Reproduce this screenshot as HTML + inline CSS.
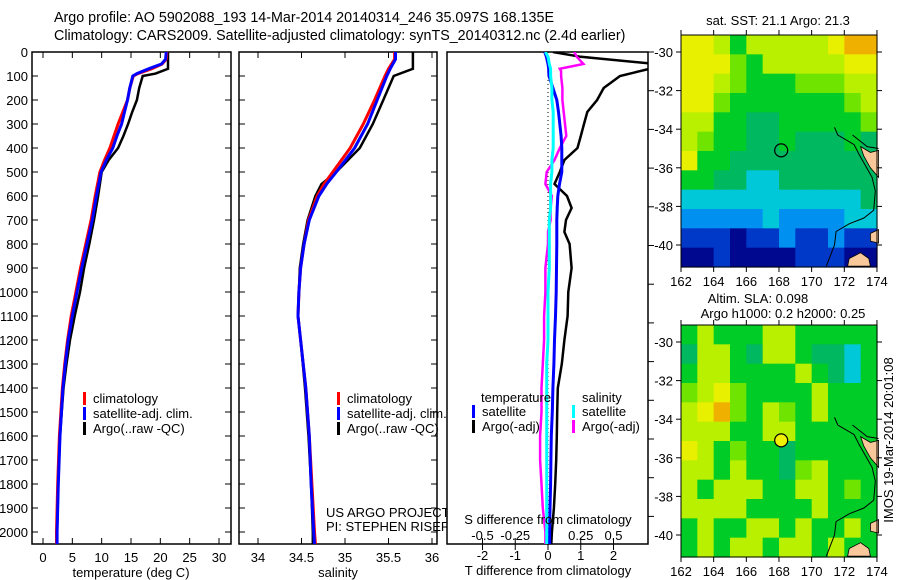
<!DOCTYPE html>
<html><head><meta charset="utf-8">
<style>
html,body{margin:0;padding:0;background:#fff;}
svg{display:block;font-family:"Liberation Sans",sans-serif;}
text{font-size:13px;fill:#000;}
</style></head>
<body>
<svg id="fig" width="900" height="580" viewBox="0 0 900 580" xmlns="http://www.w3.org/2000/svg">
<text x="54" y="22" text-anchor="start" style="font-size:14.3px">Argo profile: AO 5902088_193 14-Mar-2014 20140314_246 35.097S 168.135E</text>
<text x="54" y="40" text-anchor="start" style="font-size:14.3px">Climatology: CARS2009. Satellite-adjusted climatology: synTS_20140312.nc (2.4d earlier)</text>
<g id="g"></g>
</svg>
<script>
// ---- profile data ----
const tDepth=[0,30,50,70,90,100,150,200,250,300,350,400,450,500,600,700,800,900,1000,1100,1200,1300,1400,1600,1800,2000,2050];
const tClim=[21.1,21.0,20.3,18.5,16.2,15.4,14.8,14.4,13.6,12.8,12.1,11.4,10.5,9.7,8.9,8.2,7.3,6.4,5.6,4.8,4.2,3.7,3.3,2.8,2.5,2.3,2.3];
const tSat=[21.0,20.9,20.2,18.0,16.0,15.3,14.8,14.4,13.9,13.4,12.6,11.9,10.8,9.9,9.1,8.4,7.5,6.6,5.8,5.0,4.3,3.8,3.4,2.9,2.6,2.4,2.4];
const tArgo=[21.3,21.3,21.3,21.3,19.2,17.0,16.4,16.0,15.2,14.5,13.7,12.8,11.2,10.0,9.4,8.7,7.9,7.0,6.3,5.4,4.6,4.0,3.5,2.9,2.6,2.4,2.4];
const sDepth=[0,30,70,100,200,300,400,500,550,600,700,800,900,1000,1100,1200,1400,1600,1800,2000,2050];
const sClim=[35.57,35.57,35.50,35.46,35.34,35.21,35.06,34.86,34.76,34.68,34.58,34.53,34.49,34.47,34.46,34.49,34.55,34.59,34.62,34.65,34.66];
const sSat=[35.58,35.58,35.52,35.48,35.37,35.26,35.11,34.90,34.79,34.70,34.59,34.53,34.49,34.47,34.46,34.49,34.55,34.59,34.61,34.64,34.65];
const sArgo=[35.78,35.78,35.78,35.56,35.44,35.32,35.17,34.90,34.73,34.66,34.57,34.52,34.48,34.47,34.46,34.49,34.54,34.58,34.61,34.63,34.63];
const dDepth=[0,20,50,70,80,100,150,200,250,300,350,400,450,500,550,600,650,700,750,800,900,1000,1100,1200,1300,1400,1500,1600,1700,1800,1900,2000,2050];
const dTSat=[-0.1,-0.05,0,0.02,0.02,0.03,0.15,0.27,0.32,0.36,0.4,0.42,0.42,0.42,0.35,0.3,0.28,0.27,0.27,0.27,0.26,0.25,0.23,0.2,0.18,0.15,0.13,0.1,0.09,0.08,0.06,0.05,0.05];
const dTArgo=[0.15,1.0,3.3,3.1,2.8,2.2,1.7,1.5,1.2,1.1,1.0,0.9,0.5,0.36,0.2,0.58,0.72,0.55,0.5,0.66,0.72,0.62,0.6,0.5,0.42,0.3,0.28,0.27,0.25,0.22,0.18,0.12,0.1];
const dSSat=[-0.02,0,0.01,0.02,0.02,0.02,0.03,0.03,0.04,0.04,0.04,0.04,0.03,0.03,0.02,0.02,0.02,0.01,0.01,0.01,0.01,0.0,0.0,0.0,-0.01,-0.01,-0.01,-0.01,-0.01,-0.01,-0.01,-0.01,-0.01];
const dSArgo=[0.2,0.22,0.27,0.09,0.1,0.1,0.11,0.11,0.12,0.13,0.14,0.09,0.05,-0.01,-0.02,0.03,0.02,0.02,0.0,0.0,-0.02,-0.02,-0.03,-0.03,-0.04,-0.05,-0.05,-0.06,-0.06,-0.05,-0.04,-0.02,-0.02];
const depthTicks=[0,100,200,300,400,500,600,700,800,900,1000,1100,1200,1300,1400,1500,1600,1700,1800,1900,2000];
const tTicks=[0,5,10,15,20,25,30];
const sTicks=[34,34.5,35,35.5,36];
const sTickLabels=["34","34.5","35","35.5","36"];
const dTTicks=[-2,-1,0,1,2];
const dSTicks=[-0.5,-0.25,0,0.25,0.5];
const dSTickLabels=["-0.5","-0.25","0","0.25","0.5"];
// ---- map data (color class 0..9) ----
const mapLons=[162,164,166,168,170,172,174];
const mapLats=[-30,-32,-34,-36,-38,-40];
const sstGrid=[
[8,8,7,5,7,7,7,7,7,8,9,9],
[8,8,8,6,5,7,7,7,7,7,8,8],
[8,8,7,6,5,5,5,6,6,6,7,7],
[8,8,6,5,5,5,5,5,5,5,6,7],
[7,7,5,5,4,4,5,5,5,5,5,6],
[7,6,5,5,4,4,5,4,4,4,5,4],
[8,5,5,4,4,4,4,4,4,4,4,4],
[5,5,4,4,3,3,4,4,4,4,4,4],
[3,3,3,3,3,3,3,3,3,3,3,4],
[2,2,2,2,2,3,2,2,2,2,3,3],
[1,1,1,0,1,1,2,1,1,2,1,1],
[0,0,1,0,0,0,0,1,1,1,0,0]];
const slaGrid=[
[5,7,5,5,5,7,7,5,5,5,5,5],
[4,7,7,5,4,7,7,5,4,4,3,5],
[5,7,7,5,5,5,5,7,5,4,3,5],
[6,7,8,6,5,5,5,5,7,5,5,5],
[7,8,9,6,5,7,6,5,7,5,5,5],
[7,7,7,5,5,7,7,5,5,5,5,5],
[8,7,5,6,5,5,4,5,5,5,5,5],
[7,7,5,7,5,5,4,6,7,5,5,5],
[7,5,7,7,7,5,5,7,7,5,6,5],
[7,7,7,7,5,5,5,5,7,5,5,5],
[5,7,5,5,7,7,5,7,5,5,7,5],
[5,7,5,7,7,5,7,7,5,7,5,5]];
const palette=["#000890","#0038c8","#0090f0","#00c8d8","#00b860","#00cc28","#6ee400","#b8f000","#e8f000","#f0b000"];
const argoLon=168.135, argoLat=-35.097;

const NS="http://www.w3.org/2000/svg";
const G=document.getElementById('g');
function mk(tag,attrs,parent){const e=document.createElementNS(NS,tag);for(const k in attrs)e.setAttribute(k,attrs[k]);(parent||G).appendChild(e);return e;}
function txt(x,y,s,anchor,parent){const t=mk('text',{x:x,y:y,'text-anchor':anchor||'middle'},parent);t.textContent=s;return t;}

const Y0=52,Y1=544;
function yD(d){return 52+d*0.24;}
function xT(v){return 43+v*(219-43)/30;}
function xS(v){return 258+(v-34)*87;}
function xDT(v){return 548+v*32.75;}
function xDS(v){return 548+v*131;}

function panel(x0,x1,name){
  const r=mk('rect',{x:x0,y:Y0,width:x1-x0,height:Y1-Y0,fill:'#fff',stroke:'#000','stroke-width':1.5});
  
  
}
function line(xs,ds,fx,color,w,name,clip){
  const pts=xs.map((v,i)=>fx(v).toFixed(1)+','+yD(ds[i]).toFixed(1)).join(' ');
  const p=mk('polyline',{points:pts,fill:'none',stroke:color,'stroke-width':w,'stroke-linejoin':'miter'});
  if(clip)p.setAttribute('clip-path','url(#'+clip+')');
  
  
}
function depthTicksOn(x0,x1,labels){
  depthTicks.forEach(d=>{const y=yD(d);
    mk('line',{x1:x0,y1:y,x2:x0+6,y2:y,stroke:'#000'});
    mk('line',{x1:x1-6,y1:y,x2:x1,y2:y,stroke:'#000'});
    if(labels){const t=txt(x0-4,y+5,String(d),'end');
      
      }
  });
}
function xTicks(vals,labs,fx,x0,x1,yl){
  vals.forEach((v,i)=>{const x=fx(v);
    mk('line',{x1:x,y1:Y1,x2:x,y2:Y1-6,stroke:'#000'});
    mk('line',{x1:x,y1:Y0,x2:x,y2:Y0+6,stroke:'#000'});
    const t=txt(x,yl,labs[i]);
    
    });
}
function legendEntry(x,y,color,label){
  mk('rect',{x:x,y:y-11,width:3,height:13,fill:color});
  const t=txt(x+10,y,label,'start');
  
  
}

// Panel 1: temperature
panel(32,231,'temperature-panel');
depthTicksOn(32,231,true);
xTicks(tTicks,tTicks.map(String),xT,32,231,562);
line(tArgo,tDepth,xT,'#000',2.5,'argo-temperature-line');
line(tClim,tDepth,xT,'#f00',3,'climatology-temperature-line');
line(tSat,tDepth,xT,'#00f',3,'satellite-temperature-line');
let t=txt(131,577,'temperature (deg C)');
legendEntry(83,403,'#f00','climatology');
legendEntry(83,418,'#00f','satellite-adj. clim.');
legendEntry(83,433,'#000','Argo(..raw -QC)');

// Panel 2: salinity
panel(239,437,'salinity-panel');
depthTicksOn(239,437,false);
xTicks(sTicks,sTickLabels,xS,239,437,562);
line(sArgo,sDepth,xS,'#000',2.5,'argo-salinity-line');
line(sClim,sDepth,xS,'#f00',3,'climatology-salinity-line');
line(sSat,sDepth,xS,'#00f',3,'satellite-salinity-line');
t=txt(338,577,'salinity');
legendEntry(337,403,'#f00','climatology');
legendEntry(337,418,'#00f','satellite-adj. clim.');
legendEntry(337,433,'#000','Argo(..raw -QC)');
t=txt(326,517,'US ARGO PROJECT','start');
t=txt(326,531,'PI: STEPHEN RISER','start');

// Panel 3: differences
const defs=mk('defs',{});
const cp=mk('clipPath',{id:'c3'},defs);mk('rect',{x:447,y:Y0,width:201,height:Y1-Y0},cp);
panel(447,648,'difference-panel');
for(let y=Y0;y<Y1;y+=38.7){mk('line',{x1:648,y1:y,x2:654,y2:y,stroke:'#000'});}
mk('line',{x1:548,y1:Y0,x2:548,y2:Y1,stroke:'#000','stroke-dasharray':'1,3'});
dTTicks.forEach(v=>{const x=xDT(v);mk('line',{x1:x,y1:Y1,x2:x,y2:Y1+6,stroke:'#000'});
  const tt=txt(x,560,String(v));});
dSTicks.forEach((v,i)=>{const x=xDS(v);mk('line',{x1:x,y1:Y1,x2:x,y2:Y1-6,stroke:'#000'});
  const tt=txt(x,540,dSTickLabels[i]);});
line(dTArgo,dDepth,xDT,'#000',2.5,'argo-t-diff-line','c3');
line(dSArgo,dDepth,xDS,'#f0f',2.5,'argo-s-diff-line','c3');
line(dTSat,dDepth,xDT,'#00f',3,'satellite-t-diff-line','c3');
line(dSSat,dDepth,xDS,'#0ff',3,'satellite-s-diff-line','c3');
t=txt(548,524,'S difference from climatology');
t=txt(548,575,'T difference from climatology');
t=txt(481,402,'temperature','start');
t=txt(582,402,'salinity','start');
legendEntry(472,416,'#00f','satellite');
legendEntry(472,431,'#000','Argo(-adj)');
legendEntry(572,416,'#0ff','satellite');
legendEntry(572,431,'#f0f','Argo(-adj)');

// Maps
function drawMap(grid,top,name,markerFill){
  const L=681,R=877,B=top+232;
  const lonX=lon=>681+(lon-162)*16.33;
  const latY=lat=>top+17+(-30-lat)*19.3;
  const cw=(R-L)/grid[0].length, ch=(B-top)/grid.length;
  const g=mk('g',{});
  
  
  grid.forEach((row,r)=>row.forEach((c,k)=>{
    mk('rect',{x:(L+k*cw).toFixed(2),y:(top+r*ch).toFixed(2),width:(cw+0.6).toFixed(2),height:(ch+0.6).toFixed(2),fill:palette[c]},g);
  }));
  const land=[[[173,-34.9],[173.6,-35.2],[174.1,-35.1],[174.1,-36.5],[173.6,-36],[173.2,-35.4]],
              [[173.6,-39.4],[174.1,-39.2],[174.1,-39.9],[173.6,-39.8]],
              [[172.3,-40.7],[173,-40.4],[173.5,-40.7],[173.6,-41.1],[172.2,-41.1]]];
  land.forEach(poly=>mk('polygon',{points:poly.map(p=>lonX(p[0]).toFixed(1)+','+latY(p[1]).toFixed(1)).join(' '),fill:'#f9c89a',stroke:'#000','stroke-width':0.8},g));
  const coast=[[171.4,-33.9],[171.6,-34.3],[172.6,-34.8],[172.9,-35.3],[173.7,-36.5],[173.9,-37.2],[173.8,-38.2],[173.2,-38.6],[172.3,-38.9],[171.5,-39.3],[171.4,-40.0],[170.9,-41.1]];
  mk('polyline',{points:coast.map(p=>lonX(p[0]).toFixed(1)+','+latY(p[1]).toFixed(1)).join(' '),fill:'none',stroke:'#000','stroke-width':1},g);
  mk('polyline',{points:[[172.5,-34.3],[173.4,-34.9],[174.1,-35.0]].map(p=>lonX(p[0]).toFixed(1)+','+latY(p[1]).toFixed(1)).join(' '),fill:'none',stroke:'#000','stroke-width':1},g);
  const m=mk('circle',{cx:lonX(argoLon),cy:latY(argoLat),r:6.5,fill:markerFill,stroke:'#000','stroke-width':1.2});
  
  
  mk('rect',{x:L,y:top,width:R-L,height:B-top,fill:'none',stroke:'#000','stroke-width':1});
  mapLons.forEach(lon=>{const x=lonX(lon);
    mk('line',{x1:x,y1:B,x2:x,y2:B+5,stroke:'#000'});mk('line',{x1:x,y1:top,x2:x,y2:top-5,stroke:'#000'});
    const tt=txt(x,B+19,String(lon));});
  mapLats.forEach(lat=>{const y=latY(lat);
    mk('line',{x1:L,y1:y,x2:L-5,y2:y,stroke:'#000'});mk('line',{x1:R,y1:y,x2:R+5,y2:y,stroke:'#000'});
    const tt=txt(673,y+5,String(lat),'end');});
}
drawMap(sstGrid,35,'sst-map','none');
drawMap(slaGrid,325,'sla-map','#f0f000');
t=txt(778,25,'sat. SST: 21.1 Argo: 21.3');
t=txt(758,303,'Altim. SLA: 0.098');
t=txt(783,318,'Argo h1000: 0.2 h2000: 0.25');
t=mk('text',{x:0,y:0,'text-anchor':'middle',transform:'translate(893,440) rotate(-90)'});
t.textContent='IMOS 19-Mar-2014 20:01:08';


</script>
</body></html>
